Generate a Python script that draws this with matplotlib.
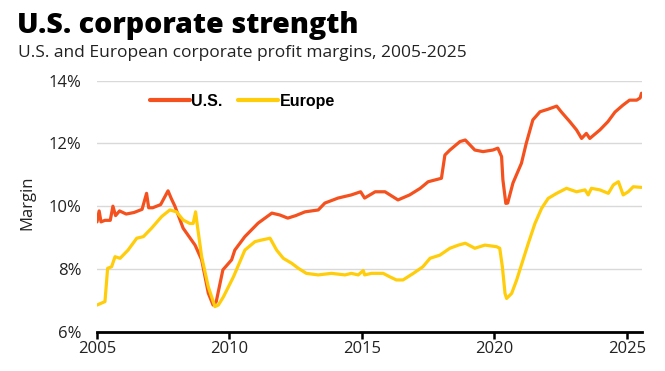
import matplotlib
matplotlib.use("Agg")
import matplotlib.pyplot as plt
import numpy as np

# ---- data (decimal year, margin %) ----
us_years = [2005.0, 2005.08, 2005.15, 2005.3, 2005.5, 2005.6, 2005.7, 2005.85, 2006.1, 2006.4,
            2006.7, 2006.87, 2006.95, 2007.1, 2007.4, 2007.68, 2007.8, 2007.94, 2008.25, 2008.7,
            2008.95, 2009.2, 2009.38, 2009.5, 2009.75, 2010.08, 2010.2, 2010.58, 2011.08, 2011.6,
            2011.9, 2012.2, 2012.5, 2012.85, 2013.35, 2013.6, 2014.1, 2014.6, 2014.95, 2015.1,
            2015.5, 2015.87, 2016.36, 2016.8, 2017.2, 2017.5, 2018.0, 2018.13, 2018.32, 2018.7,
            2018.9, 2019.26, 2019.57, 2019.94, 2020.13, 2020.27, 2020.32, 2020.43, 2020.5, 2020.7,
            2021.02, 2021.2, 2021.45, 2021.72, 2022.02, 2022.35, 2022.53, 2022.85, 2023.1, 2023.29,
            2023.47, 2023.6, 2023.98, 2024.28, 2024.55, 2024.85, 2025.1, 2025.37, 2025.5, 2025.55]
us_values = [9.5, 9.85, 9.5, 9.55, 9.55, 10.0, 9.7, 9.85, 9.75, 9.8,
             9.9, 10.41, 9.95, 9.95, 10.05, 10.49, 10.25, 10.0, 9.3, 8.76,
             8.29, 7.23, 6.85, 6.96, 7.97, 8.29, 8.6, 9.03, 9.46, 9.78,
             9.72, 9.62, 9.7, 9.82, 9.88, 10.1, 10.26, 10.36, 10.46, 10.26,
             10.46, 10.46, 10.2, 10.36, 10.57, 10.78, 10.89, 11.63, 11.79, 12.06,
             12.11, 11.79, 11.74, 11.79, 11.85, 11.58, 10.84, 10.09, 10.1, 10.74,
             11.37, 12.0, 12.75, 13.01, 13.09, 13.19, 13.0, 12.69, 12.43, 12.16,
             12.32, 12.16, 12.43, 12.69, 13.0, 13.22, 13.38, 13.38, 13.45, 13.6]

eu_years = [2005.0, 2005.3, 2005.4, 2005.55, 2005.68, 2005.87, 2006.17, 2006.5, 2006.75, 2007.06,
            2007.44, 2007.75, 2008.0, 2008.25, 2008.5, 2008.63, 2008.72, 2008.8, 2008.95, 2009.2,
            2009.45, 2009.58, 2009.77, 2010.15, 2010.58, 2010.96, 2011.2, 2011.53, 2011.78, 2012.03,
            2012.35, 2012.6, 2012.9, 2013.35, 2013.85, 2014.36, 2014.6, 2014.86, 2015.05, 2015.1,
            2015.36, 2015.8, 2016.05, 2016.3, 2016.55, 2016.94, 2017.3, 2017.57, 2017.94, 2018.32,
            2018.64, 2018.9, 2019.26, 2019.64, 2020.08, 2020.2, 2020.3, 2020.4, 2020.46, 2020.65,
            2020.84, 2021.02, 2021.28, 2021.53, 2021.78, 2022.03, 2022.35, 2022.72, 2023.1, 2023.42,
            2023.54, 2023.66, 2023.98, 2024.3, 2024.49, 2024.68, 2024.86, 2025.05, 2025.24, 2025.55]
eu_values = [6.85, 6.96, 8.02, 8.07, 8.39, 8.34, 8.6, 8.98, 9.03, 9.3,
             9.67, 9.88, 9.82, 9.56, 9.45, 9.45, 9.82, 9.3, 8.39, 7.43,
             6.8, 6.85, 7.11, 7.75, 8.6, 8.87, 8.92, 8.98, 8.6, 8.34,
             8.18, 8.02, 7.86, 7.81, 7.86, 7.81, 7.86, 7.81, 7.95, 7.81,
             7.86, 7.86, 7.75, 7.65, 7.65, 7.86, 8.07, 8.34, 8.44, 8.66,
             8.76, 8.82, 8.66, 8.76, 8.71, 8.66, 8.07, 7.22, 7.06, 7.22,
             7.65, 8.13, 8.82, 9.45, 9.93, 10.25, 10.41, 10.57, 10.46, 10.52,
             10.36, 10.57, 10.52, 10.41, 10.68, 10.78, 10.36, 10.46, 10.62, 10.6]

y_ticks = [6, 8, 10, 12, 14]
y_tick_labels = ["6%", "8%", "10%", "12%", "14%"]
x_ticks = [2005, 2010, 2015, 2020, 2025]
x_tick_labels = ["2005", "2010", "2015", "2020", "2025"]

US_COLOR = "#F4511E"
EU_COLOR = "#FFCD0A"
TEXT = "#222222"

plt.rcParams['font.family'] = ['Open Sans', 'DejaVu Sans']

fig = plt.figure(figsize=(6.65, 3.71), dpi=100)
ax = fig.add_axes([0.1459, 0.1059, 0.8195, 0.6766])

ax.plot(us_years, us_values, color=US_COLOR, lw=2.3, solid_capstyle='round',
        solid_joinstyle='round', label="U.S.", zorder=3)
ax.plot(eu_years, eu_values, color=EU_COLOR, lw=2.3, solid_capstyle='round',
        solid_joinstyle='round', label="Europe", zorder=4)

ax.set_xlim(2005, 2025.57)
ax.set_ylim(6, 14)
ax.set_yticks(y_ticks)
ax.set_yticklabels(y_tick_labels)
ax.set_xticks(x_ticks)
ax.set_xticklabels(x_tick_labels)

for s in ["top", "right", "left"]:
    ax.spines[s].set_visible(False)
ax.spines["bottom"].set_linewidth(2.0)
ax.spines["bottom"].set_color("black")
ax.tick_params(axis='x', direction='out', length=5, width=1.8, color='black',
               labelsize=12, pad=2, labelcolor=TEXT)
ax.tick_params(axis='y', length=0, labelsize=12, pad=11, labelcolor=TEXT)
ax.yaxis.grid(True, color='#d9d9d9', lw=1.0)
ax.set_axisbelow(True)
ax.set_ylabel("Margin", fontsize=12, color=TEXT)
ax.yaxis.label.set_va('center')
ax.yaxis.set_label_coords(-0.127, 0.515)

leg = ax.legend(loc='center left', bbox_to_anchor=(0.097, 0.919), ncol=2, frameon=False,
                prop={'family': 'Liberation Sans', 'weight': 'bold', 'size': 11.5},
                handlelength=2.5, handletextpad=0.1, columnspacing=0.95,
                borderpad=0, borderaxespad=0)
for line in leg.get_lines():
    line.set_linewidth(3.0)

fig.text(0.026, 0.9102, "U.S. corporate strength", fontsize=20.5, fontweight=800,
         family=['Open Sans', 'DejaVu Sans'], va='baseline', ha='left', color='black')
fig.text(0.027, 0.8456, "U.S. and European corporate profit margins, 2005-2025", fontsize=12.5,
         va='baseline', ha='left', color=TEXT)

fig.savefig("out.png", dpi=100)
